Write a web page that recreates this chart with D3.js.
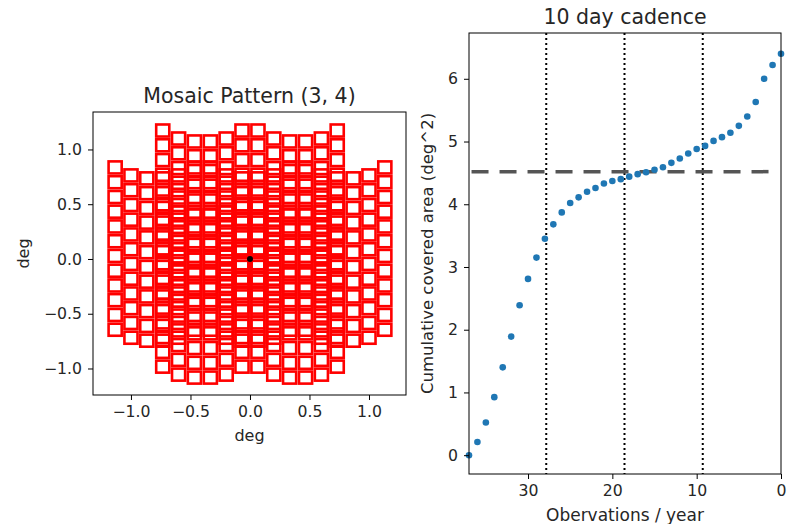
<!DOCTYPE html>
<html>
<head>
<meta charset="utf-8">
<script src="https://cdn.jsdelivr.net/npm/d3@7"></script>
<style>
  body { margin: 0; background: #fff; }
  svg text { font-family: "DejaVu Sans", sans-serif; fill: #262626; }
</style>
</head>
<body>
<svg width="788" height="524"></svg>
<script>
// ---- mosaic data (deg) ----
var chipSize = 0.11;
var camColX = [-0.333, -0.2, -0.067, 0.067, 0.2, 0.333];
var camColLift = [0.10, 0.027, 0, 0, 0.027, 0.10];
var camRowY = [-0.741, -0.606, -0.471, -0.337, -0.202, -0.067, 0.067, 0.202, 0.337, 0.471, 0.606, 0.741];
var pointings = [[-0.8, -0.005], [-0.4, 0.332], [-0.4, -0.342], [0, -0.005], [0.4, 0.332], [0.4, -0.342], [0.8, -0.005]];
var mosaicTicks = [-1.0, -0.5, 0.0, 0.5, 1.0];

// ---- cadence data ----
var obsPerYear = [37,36,35,34,33,32,31,30,29,28,27,26,25,24,23,22,21,20,19,18,17,16,15,14,13,12,11,10,9,8,7,6,5,4,3,2,1,0];
var coveredArea = [0,0.21,0.52,0.925,1.40,1.89,2.39,2.81,3.15,3.45,3.68,3.87,4.02,4.11,4.20,4.26,4.33,4.37,4.40,4.44,4.48,4.51,4.55,4.59,4.66,4.73,4.81,4.88,4.93,5.01,5.07,5.14,5.25,5.40,5.63,6.00,6.22,6.40];
var cadenceLines = [27.84, 18.56, 9.28];
var targetArea = 4.52;
var targetSpan = [36.7, 1.45];
var areaTicks = [0,1,2,3,4,5,6];
var obsTicks = [30,20,10,0];

var svg = d3.select("svg");

// ================= left: mosaic =================
var L = {left: 93, right: 406, top: 112, bottom: 395};
var xm = d3.scaleLinear().domain([-1.319, 1.311]).range([L.left, L.right]);
var ym = d3.scaleLinear().domain([-1.242, 1.342]).range([L.bottom, L.top]);

var squares = [];
pointings.forEach(function(p){
  camColX.forEach(function(cx, i){
    camRowY.forEach(function(ry){
      squares.push({x: p[0] + cx, y: p[1] + ry + camColLift[i]});
    });
  });
});

var gm = svg.append("g");
gm.selectAll("rect.chip")
  .data(squares)
  .enter()
  .append("rect")
  .attr("class","chip")
  .attr("x", function(d){ return xm(d.x - chipSize/2); })
  .attr("y", function(d){ return ym(d.y + chipSize/2); })
  .attr("width", function(d){ return xm(d.x + chipSize/2) - xm(d.x - chipSize/2); })
  .attr("height", function(d){ return ym(d.y - chipSize/2) - ym(d.y + chipSize/2); })
  .attr("fill","none")
  .attr("stroke","red")
  .attr("stroke-width",2.6);

gm.append("circle")
  .attr("cx", xm(0)).attr("cy", ym(0)).attr("r", 3)
  .attr("fill","black");

gm.append("rect")
  .attr("x", L.left).attr("y", L.top)
  .attr("width", L.right - L.left).attr("height", L.bottom - L.top)
  .attr("fill","none").attr("stroke","black").attr("stroke-width",1);

var fmt1 = d3.format(".1f");
var minusFmt = function(v){ return fmt1(v).replace("-", "\u2212"); };

gm.append("g")
  .attr("transform","translate(0," + L.bottom + ")")
  .call(d3.axisBottom(xm).tickValues(mosaicTicks).tickFormat(minusFmt).tickSize(5).tickPadding(6))
  .call(styleAxis);
gm.append("g")
  .attr("transform","translate(" + L.left + ",0)")
  .call(d3.axisLeft(ym).tickValues(mosaicTicks).tickFormat(minusFmt).tickSize(5).tickPadding(6))
  .call(styleAxis);

gm.append("text").attr("x",(L.left+L.right)/2).attr("y",103)
  .attr("text-anchor","middle").style("font-size","20.5px").text("Mosaic Pattern (3, 4)");
gm.append("text").attr("x",(L.left+L.right)/2).attr("y",441)
  .attr("text-anchor","middle").style("font-size","16px").text("deg");
gm.append("text").attr("transform","translate(29," + (L.top+L.bottom)/2 + ") rotate(-90)")
  .attr("text-anchor","middle").style("font-size","16px").text("deg");

// ================= right: cadence =================
var R = {left: 469, right: 781, top: 33, bottom: 474};
var xc = d3.scaleLinear().domain([37, 0]).range([R.left, R.right]);
var yc = d3.scaleLinear().domain([-0.30, 6.73]).range([R.bottom, R.top]);

var gc = svg.append("g");

gc.selectAll("line.vl")
  .data(cadenceLines)
  .enter()
  .append("line")
  .attr("x1", function(d){ return xc(d); })
  .attr("x2", function(d){ return xc(d); })
  .attr("y1", R.top).attr("y2", R.bottom)
  .attr("stroke","black").attr("stroke-width",2)
  .attr("stroke-dasharray","2,3");

gc.append("line")
  .attr("x1", xc(targetSpan[0])).attr("x2", xc(targetSpan[1]))
  .attr("y1", yc(targetArea)).attr("y2", yc(targetArea))
  .attr("stroke","#555").attr("stroke-width",3.5)
  .attr("stroke-dasharray","17,11");

gc.selectAll("circle.pt")
  .data(obsPerYear)
  .enter()
  .append("circle")
  .attr("class","pt")
  .attr("cx", function(d){ return xc(d); })
  .attr("cy", function(d, i){ return yc(coveredArea[i]); })
  .attr("r", 3.3)
  .attr("fill","#1f77b4");

gc.append("rect")
  .attr("x", R.left).attr("y", R.top)
  .attr("width", R.right - R.left).attr("height", R.bottom - R.top)
  .attr("fill","none").attr("stroke","black").attr("stroke-width",1);

gc.append("g")
  .attr("transform","translate(0," + R.bottom + ")")
  .call(d3.axisBottom(xc).tickValues(obsTicks).tickFormat(d3.format("d")).tickSize(5).tickPadding(6))
  .call(styleAxis);
gc.append("g")
  .attr("transform","translate(" + R.left + ",0)")
  .call(d3.axisLeft(yc).tickValues(areaTicks).tickFormat(d3.format("d")).tickSize(5).tickPadding(6))
  .call(styleAxis);

gc.append("text").attr("x",(R.left+R.right)/2).attr("y",23.5)
  .attr("text-anchor","middle").style("font-size","20.5px").text("10 day cadence");
gc.append("text").attr("x",(R.left+R.right)/2).attr("y",521)
  .attr("text-anchor","middle").style("font-size","17px").text("Obervations / year");
gc.append("text").attr("transform","translate(433," + (R.top+R.bottom)/2 + ") rotate(-90)")
  .attr("text-anchor","middle").style("font-size","16.5px").text("Cumulative covered area (deg^2)");

function styleAxis(g){
  g.select(".domain").remove();
  g.selectAll(".tick line").attr("stroke","black");
  g.selectAll(".tick text").style("font-size","15.7px").attr("fill","#262626");
}
</script>
</body>
</html>
